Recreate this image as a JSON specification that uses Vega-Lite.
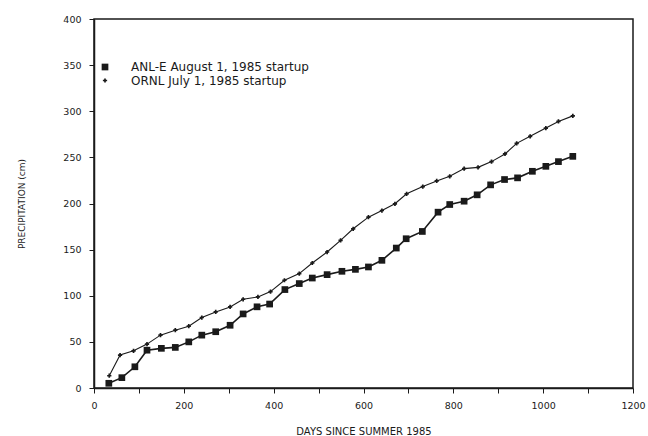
{
  "$schema": "https://vega.github.io/schema/vega-lite/v6.json",
  "width": 539,
  "height": 369,
  "autosize": {"type": "none"},
  "padding": {"left": 94, "top": 19, "right": 15, "bottom": 48},
  "background": "white",
  "config": {
    "view": {"stroke": "#1a1a1a", "strokeWidth": 1.5},
    "font": "DejaVu Sans",
    "axis": {"grid": false, "domainColor": "#1a1a1a", "domainWidth": 1.5, "tickColor": "#1a1a1a", "labelColor": "#1a1a1a", "titleColor": "#1a1a1a", "labelFont": "DejaVu Sans", "titleFont": "DejaVu Sans", "titleFontWeight": "normal"},
    "legend": {"title": null, "labelFontSize": 12, "labelFont": "DejaVu Sans", "labelColor": "#1a1a1a", "labelOffset": 20, "rowPadding": 0.5, "labelLimit": 400}
  },
  "data": {"values": [
    {"series": "ANL-E August 1, 1985 startup", "day": 33, "precip": 5.1},
    {"series": "ANL-E August 1, 1985 startup", "day": 62, "precip": 11.2},
    {"series": "ANL-E August 1, 1985 startup", "day": 91, "precip": 23},
    {"series": "ANL-E August 1, 1985 startup", "day": 118, "precip": 41},
    {"series": "ANL-E August 1, 1985 startup", "day": 150, "precip": 43},
    {"series": "ANL-E August 1, 1985 startup", "day": 181, "precip": 44},
    {"series": "ANL-E August 1, 1985 startup", "day": 211, "precip": 50},
    {"series": "ANL-E August 1, 1985 startup", "day": 240, "precip": 57.3},
    {"series": "ANL-E August 1, 1985 startup", "day": 271, "precip": 61},
    {"series": "ANL-E August 1, 1985 startup", "day": 303, "precip": 68},
    {"series": "ANL-E August 1, 1985 startup", "day": 332, "precip": 80.3},
    {"series": "ANL-E August 1, 1985 startup", "day": 363, "precip": 88},
    {"series": "ANL-E August 1, 1985 startup", "day": 391, "precip": 91},
    {"series": "ANL-E August 1, 1985 startup", "day": 425, "precip": 106.7},
    {"series": "ANL-E August 1, 1985 startup", "day": 457, "precip": 113.2},
    {"series": "ANL-E August 1, 1985 startup", "day": 486, "precip": 119.2},
    {"series": "ANL-E August 1, 1985 startup", "day": 519, "precip": 122.9},
    {"series": "ANL-E August 1, 1985 startup", "day": 552, "precip": 126.5},
    {"series": "ANL-E August 1, 1985 startup", "day": 582, "precip": 128.6},
    {"series": "ANL-E August 1, 1985 startup", "day": 611, "precip": 131.2},
    {"series": "ANL-E August 1, 1985 startup", "day": 641, "precip": 138.4},
    {"series": "ANL-E August 1, 1985 startup", "day": 673, "precip": 151.7},
    {"series": "ANL-E August 1, 1985 startup", "day": 695, "precip": 161.8},
    {"series": "ANL-E August 1, 1985 startup", "day": 731, "precip": 169.7},
    {"series": "ANL-E August 1, 1985 startup", "day": 766, "precip": 190.6},
    {"series": "ANL-E August 1, 1985 startup", "day": 792, "precip": 198.9},
    {"series": "ANL-E August 1, 1985 startup", "day": 824, "precip": 202.5},
    {"series": "ANL-E August 1, 1985 startup", "day": 853, "precip": 209.4},
    {"series": "ANL-E August 1, 1985 startup", "day": 883, "precip": 220.2},
    {"series": "ANL-E August 1, 1985 startup", "day": 914, "precip": 226},
    {"series": "ANL-E August 1, 1985 startup", "day": 943, "precip": 227.8},
    {"series": "ANL-E August 1, 1985 startup", "day": 976, "precip": 234.9},
    {"series": "ANL-E August 1, 1985 startup", "day": 1006, "precip": 240.3},
    {"series": "ANL-E August 1, 1985 startup", "day": 1034, "precip": 245.4},
    {"series": "ANL-E August 1, 1985 startup", "day": 1066, "precip": 251.1},
    {"series": "ORNL July 1, 1985 startup", "day": 34, "precip": 13.3},
    {"series": "ORNL July 1, 1985 startup", "day": 58, "precip": 35.7},
    {"series": "ORNL July 1, 1985 startup", "day": 88, "precip": 40.3},
    {"series": "ORNL July 1, 1985 startup", "day": 118, "precip": 47.6},
    {"series": "ORNL July 1, 1985 startup", "day": 148, "precip": 57.3},
    {"series": "ORNL July 1, 1985 startup", "day": 181, "precip": 62.7},
    {"series": "ORNL July 1, 1985 startup", "day": 211, "precip": 67},
    {"series": "ORNL July 1, 1985 startup", "day": 240, "precip": 76.4},
    {"series": "ORNL July 1, 1985 startup", "day": 271, "precip": 82.5},
    {"series": "ORNL July 1, 1985 startup", "day": 303, "precip": 87.9},
    {"series": "ORNL July 1, 1985 startup", "day": 332, "precip": 96.2},
    {"series": "ORNL July 1, 1985 startup", "day": 365, "precip": 98.7},
    {"series": "ORNL July 1, 1985 startup", "day": 393, "precip": 104.5},
    {"series": "ORNL July 1, 1985 startup", "day": 424, "precip": 116.8},
    {"series": "ORNL July 1, 1985 startup", "day": 457, "precip": 124},
    {"series": "ORNL July 1, 1985 startup", "day": 486, "precip": 135.5},
    {"series": "ORNL July 1, 1985 startup", "day": 519, "precip": 147.4},
    {"series": "ORNL July 1, 1985 startup", "day": 549, "precip": 160},
    {"series": "ORNL July 1, 1985 startup", "day": 577, "precip": 172.6},
    {"series": "ORNL July 1, 1985 startup", "day": 611, "precip": 185.2},
    {"series": "ORNL July 1, 1985 startup", "day": 641, "precip": 192.4},
    {"series": "ORNL July 1, 1985 startup", "day": 670, "precip": 199.7},
    {"series": "ORNL July 1, 1985 startup", "day": 696, "precip": 210.5},
    {"series": "ORNL July 1, 1985 startup", "day": 732, "precip": 218.4},
    {"series": "ORNL July 1, 1985 startup", "day": 763, "precip": 224.5},
    {"series": "ORNL July 1, 1985 startup", "day": 792, "precip": 229.5},
    {"series": "ORNL July 1, 1985 startup", "day": 824, "precip": 237.8},
    {"series": "ORNL July 1, 1985 startup", "day": 855, "precip": 239.2},
    {"series": "ORNL July 1, 1985 startup", "day": 885, "precip": 245.4},
    {"series": "ORNL July 1, 1985 startup", "day": 915, "precip": 253.7},
    {"series": "ORNL July 1, 1985 startup", "day": 941, "precip": 265.2},
    {"series": "ORNL July 1, 1985 startup", "day": 971, "precip": 272.8},
    {"series": "ORNL July 1, 1985 startup", "day": 1006, "precip": 281.8},
    {"series": "ORNL July 1, 1985 startup", "day": 1034, "precip": 289},
    {"series": "ORNL July 1, 1985 startup", "day": 1066, "precip": 295}
  ]},
  "encoding": {
    "x": {"field": "day", "type": "quantitative",
      "scale": {"domain": [0, 1200], "nice": false, "zero": true},
      "axis": {"title": "DAYS SINCE SUMMER 1985", "values": [0,100,200,300,400,500,600,700,800,900,1000,1100,1200],
        "labelExpr": "datum.value % 200 === 0 ? datum.label : ''", "format": "d",
        "labelFontSize": 9.5, "titleFontSize": 10, "tickSize": 5, "labelPadding": 7, "titlePadding": 17, "labelFlush": false}},
    "y": {"field": "precip", "type": "quantitative",
      "scale": {"domain": [0, 400], "nice": false},
      "axis": {"title": "PRECIPITATION (cm)", "values": [0,50,100,150,200,250,300,350,400],
        "labelFontSize": 9.5, "titleFontSize": 9, "tickSize": 5, "labelPadding": 8, "titlePadding": 36}}
  },
  "layer": [
    {
      "transform": [{"filter": "datum.series === 'ANL-E August 1, 1985 startup'"}],
      "mark": {"type": "line", "color": "#1a1a1a", "strokeWidth": 1.6},
      "encoding": {}
    },
    {
      "transform": [{"filter": "datum.series === 'ORNL July 1, 1985 startup'"}],
      "mark": {"type": "line", "color": "#1a1a1a", "strokeWidth": 1.1},
      "encoding": {}
    },
    {
      "mark": {"type": "point", "filled": true, "color": "#1a1a1a", "opacity": 1},
      "encoding": {
        "shape": {"field": "series", "type": "nominal",
          "scale": {"domain": ["ANL-E August 1, 1985 startup", "ORNL July 1, 1985 startup"], "range": ["square", "cross"]},
          "legend": {"orient": "none", "legendX": 5, "legendY": 42}},
        "size": {"field": "series", "type": "nominal",
          "scale": {"domain": ["ANL-E August 1, 1985 startup", "ORNL July 1, 1985 startup"], "range": [45, 18]},
          "legend": {"orient": "none", "legendX": 5, "legendY": 42}}
      }
    }
  ]
}
